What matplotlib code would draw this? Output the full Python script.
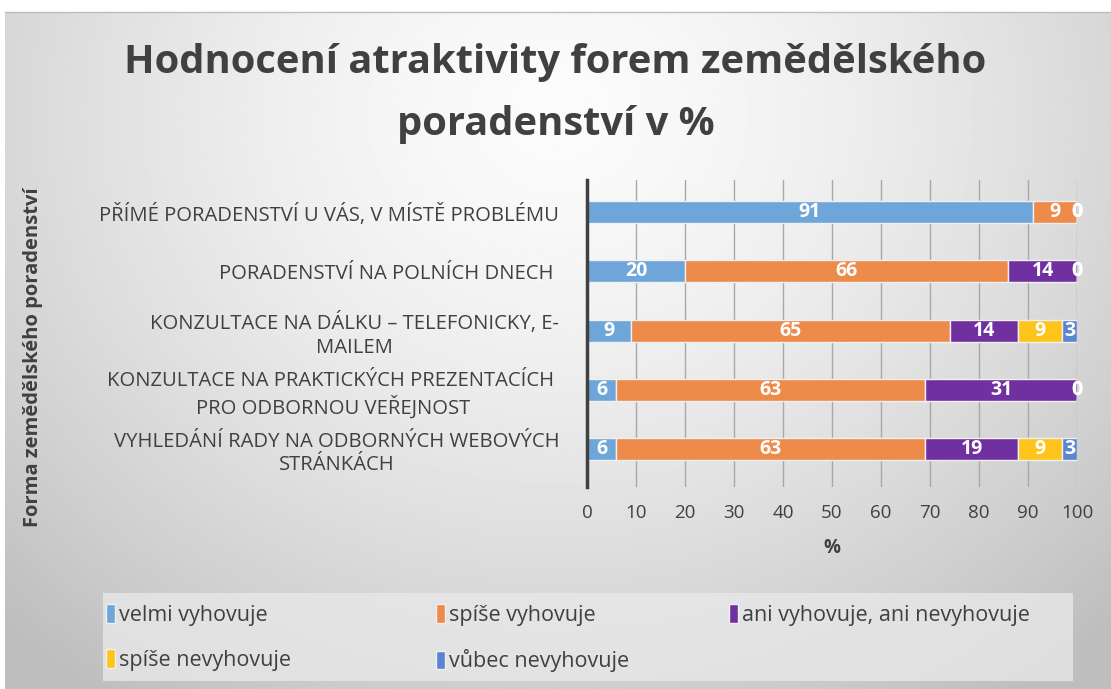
import numpy as np
import matplotlib
matplotlib.use("Agg")
import matplotlib.pyplot as plt
from matplotlib.patches import Rectangle

plt.rcParams["font.family"] = ["Open Sans", "DejaVu Sans"]

categories = [
    "PŘÍMÉ PORADENSTVÍ U VÁS, V MÍSTĚ PROBLÉMU",
    "PORADENSTVÍ NA POLNÍCH DNECH ",
    "KONZULTACE NA DÁLKU – TELEFONICKY, E-\nMAILEM",
    "KONZULTACE NA PRAKTICKÝCH PREZENTACÍCH \nPRO ODBORNOU VEŘEJNOST",
    "VYHLEDÁNÍ RADY NA ODBORNÝCH WEBOVÝCH\nSTRÁNKÁCH",
]
series = ["velmi vyhovuje", "spíše vyhovuje", "ani vyhovuje, ani nevyhovuje",
          "spíše nevyhovuje", "vůbec nevyhovuje"]
velmi = [91, 20, 9, 6, 6]
spise = [9, 66, 65, 63, 63]
ani = [0, 14, 14, 31, 19]
spise_ne = [0, 0, 9, 0, 9]
vubec = [0, 0, 3, 0, 3]
colors = ["#6fa6da", "#ee8a4a", "#7030a0", "#ffc41c", "#5b85cf"]

W, H = 1111, 689
fig = plt.figure(figsize=(W / 100, H / 100), dpi=100)
fig.patch.set_facecolor("white")

# gradient background (radial, light centre)
bg = fig.add_axes([5 / W, 0, 1 - 5 / W, 1 - 12 / H])
yy, xx = np.mgrid[0:1:300j, 0:1:500j]
r = np.sqrt(((xx - 0.5) / 0.72) ** 2 + ((yy - 0.15) / 1.05) ** 2)
shade = 0.985 - 0.24 * np.clip(r, 0, 1) ** 1.5
bg.imshow(shade, cmap="gray", vmin=0, vmax=1, aspect="auto",
          extent=[0, 1, 0, 1], origin="upper", interpolation="bilinear")
bg.axis("off")
fig.add_artist(plt.Line2D([5 / W, 1], [1 - 12 / H, 1 - 12 / H],
                          color="#bdbdbd", lw=1, transform=fig.transFigure))

ax = fig.add_axes([587 / W, 1 - 487 / H, (1077 - 587) / W, (487 - 180) / H])
ax.patch.set_alpha(0)
y = np.arange(len(categories))
left = np.zeros(len(categories))
handles = []
for name, vals, c in zip(series, [velmi, spise, ani, spise_ne, vubec], colors):
    vals = np.array(vals, dtype=float)
    bars = ax.barh(y, vals, left=left, height=0.37, color=c, label=name,
                   edgecolor="#f0f0f0", linewidth=1, zorder=3)
    ax.bar_label(bars, labels=[f"{v:.0f}" for v in vals], label_type="center",
                 color="white", fontsize=14, fontweight="bold", zorder=4)
    handles.append(bars)
    left += vals

ax.set_xlim(0, 100)
ax.set_ylim(4.64, -0.54)
ax.set_xticks(range(0, 101, 10))
ax.set_yticks(y)
ax.set_yticklabels(categories, fontsize=14.6, color="#404040",
                   multialignment="center", linespacing=1.25)
ax.tick_params(axis="y", length=0, pad=20)
ax.tick_params(axis="x", length=0, pad=12, labelsize=13.5, labelcolor="#404040")
ax.grid(axis="x", color="#a8a8a8", lw=1, zorder=0)
for s in ["top", "right", "bottom"]:
    ax.spines[s].set_visible(False)
ax.spines["left"].set_color("#404040")
ax.spines["left"].set_linewidth(2.5)
ax.spines["left"].set_zorder(5)
ax.set_xlabel("%", fontsize=13.5, fontweight="bold", color="#404040", labelpad=12)

fig.text(0.5, 1 - 62 / H, "Hodnocení atraktivity forem zemědělského",
         ha="center", va="center", fontsize=28.7, fontweight="bold", color="#404040")
fig.text(0.5, 1 - 125 / H, "poradenství v %",
         ha="center", va="center", fontsize=28.7, fontweight="bold", color="#404040")
fig.text(33 / W, 1 - 357 / H, "Forma zemědělského poradenství", rotation=90,
         ha="center", va="center", fontsize=14.5, fontweight="bold", color="#404040")

# legend: light box with three columns placed individually
fig.add_artist(Rectangle((103 / W, 1 - 681 / H), (1073 - 103) / W, (681 - 593) / H,
                         transform=fig.transFigure, facecolor="#e8e8e8",
                         edgecolor="none", alpha=0.8, zorder=1))
cols = [([0, 3], 106), ([1, 4], 436), ([2], 729)]
for idx, x0 in cols:
    leg = fig.legend([handles[i] for i in idx], [series[i] for i in idx],
                     loc="upper left", bbox_to_anchor=(x0 / W, 1 - 604 / H),
                     frameon=False, fontsize=15.5, handlelength=0.4,
                     handleheight=0.95, handletextpad=0.2, labelspacing=1.1,
                     borderpad=0, borderaxespad=0, labelcolor="#404040")
    leg.set_zorder(2)

fig.savefig("out.png", dpi=100)
